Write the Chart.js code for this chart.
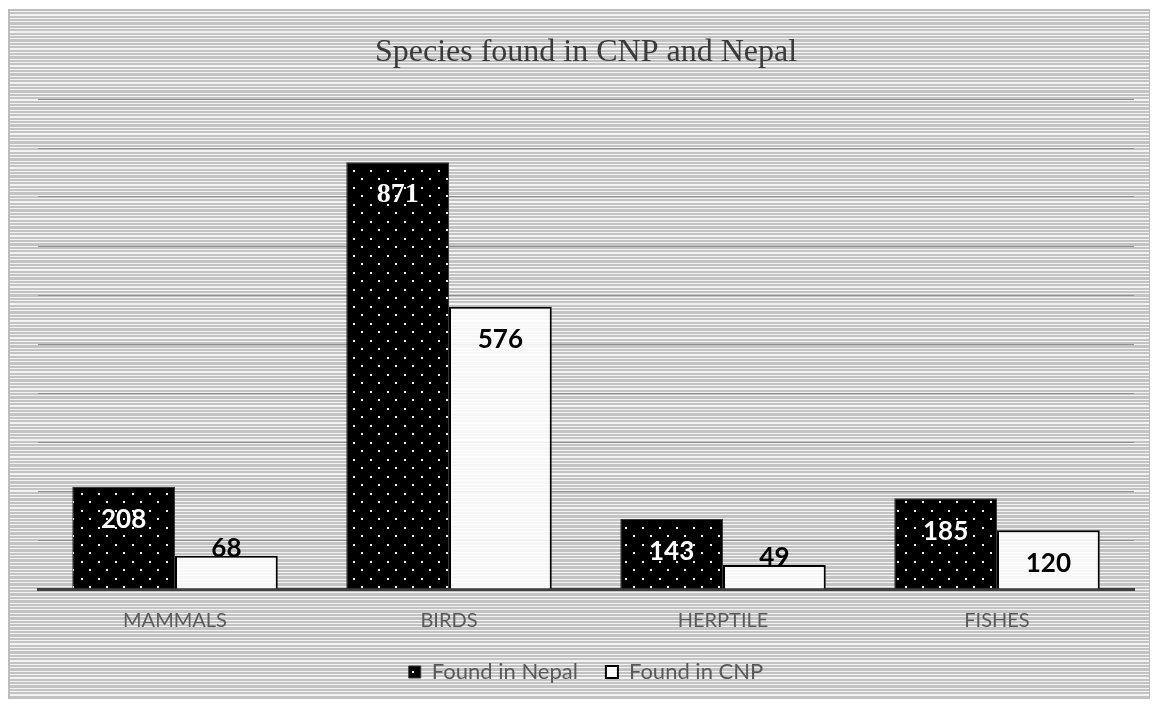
<!DOCTYPE html>
<html>
<head>
<meta charset="utf-8">
<title>Species found in CNP and Nepal</title>
<script src="https://cdn.jsdelivr.net/npm/chart.js@4.4.1/dist/chart.umd.min.js"></script>
<style>
  html, body { margin: 0; padding: 0; background: #ffffff; }
  #frame {
    position: absolute; left: 8px; top: 9px; width: 1139px; height: 687px;
    border-style: solid; border-color: #bdbdbd; border-width: 2px 1px 1px 2px;
    background: repeating-linear-gradient(180deg, #f3f3f3 0px, #f3f3f3 1.1px, #c3c3c3 1.1px, #c3c3c3 3.4px);
  }
  #wrap { position: absolute; left: 0; top: 0; width: 1156px; height: 706px; }
</style>
</head>
<body>
<div id="frame"></div>
<div id="wrap"><canvas id="c" width="1156" height="706"></canvas></div>
<script>
// Species counts per group
const categories = ['MAMMALS', 'BIRDS', 'HERPTILE', 'FISHES'];
const foundInNepal = [208, 871, 143, 185];
const foundInCNP = [68, 576, 49, 120];
const yMin = 0;
const yMax = 1000;
const yStep = 100;

const canvas = document.getElementById('c');
const ctx = canvas.getContext('2d');

// Black fill with a staggered grid of small white dots
function dottedFill() {
  const tile = document.createElement('canvas');
  tile.width = 17; tile.height = 17;
  const t = tile.getContext('2d');
  t.fillStyle = '#000000';
  t.fillRect(0, 0, 17, 17);
  t.fillStyle = '#f4f4f4';
  t.fillRect(13, 0, 2, 2);
  t.fillRect(4, 8, 2, 2);
  return ctx.createPattern(tile, 'repeat');
}

// Value labels: inside the bar when it is tall enough, otherwise sitting on top of it
const valueLabels = {
  id: 'valueLabels',
  afterDatasetsDraw(chart) {
    const c = chart.ctx;
    chart.data.datasets.forEach((ds, di) => {
      const meta = chart.getDatasetMeta(di);
      meta.data.forEach((bar, i) => {
        const h = bar.base - bar.y;
        const inside = h > 40;
        const y = inside ? bar.y + 33 : bar.y - 7;
        const serif = ds.labelSerif && ds.labelSerif[i];
        c.save();
        c.font = serif ? 'bold 28px "Liberation Serif", serif' : 'bold 26px Lato, sans-serif';
        c.fillStyle = ds.labelColor;
        c.textAlign = 'center';
        c.textBaseline = 'middle';
        c.fillText(String(ds.data[i]), bar.x, y);
        c.restore();
      });
    });
  }
};

new Chart(ctx, {
  type: 'bar',
  data: {
    labels: categories,
    datasets: [
      {
        label: 'Found in Nepal',
        data: foundInNepal,
        backgroundColor: dottedFill(),
        borderColor: '#3a3a3a',
        borderWidth: 1,
        labelColor: '#ffffff',
        labelSerif: [false, true, false, false]
      },
      {
        label: 'Found in CNP',
        data: foundInCNP,
        backgroundColor: 'rgba(255,255,255,0.86)',
        borderColor: '#000000',
        borderWidth: 2,
        labelColor: '#000000'
      }
    ]
  },
  options: {
    responsive: false,
    animation: false,
    layout: { padding: { top: 20, bottom: 13, left: 38, right: 22 } },
    datasets: {
      bar: { categoryPercentage: 0.75, barPercentage: 1.0 }
    },
    scales: {
      x: {
        grid: { display: false, drawTicks: false },
        border: { display: true, color: '#404040', width: 3 },
        ticks: { color: '#595959', font: { family: 'Lato', size: 20 }, padding: 20 },
        afterFit(scale) { scale.height = 44; }
      },
      y: {
        min: yMin,
        max: yMax,
        ticks: { display: false, stepSize: yStep },
        grid: { color: '#8f8f8f', lineWidth: 1, drawTicks: false },
        border: { display: false },
        afterFit(scale) { scale.width = 0; }
      }
    },
    plugins: {
      title: {
        display: true,
        text: 'Species found in CNP and Nepal',
        color: '#3a3a3a',
        fullSize: false,
        font: { family: '"Liberation Serif", serif', size: 32, weight: 'normal' },
        padding: { top: 13, bottom: 27.6 }
      },
      legend: {
        position: 'bottom',
        fullSize: false,
        labels: {
          color: '#595959',
          font: { family: 'Lato', size: 22 },
          boxWidth: 12,
          boxHeight: 12,
          padding: 28
        }
      },
      tooltip: { enabled: false }
    }
  },
  plugins: [valueLabels]
});
</script>
</body>
</html>
